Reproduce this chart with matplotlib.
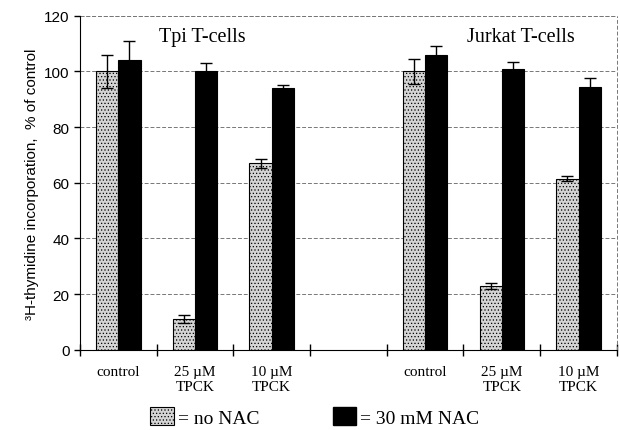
import numpy as np
import matplotlib.pyplot as plt
from matplotlib.patches import Patch

categories = ['control', '25 µM\nTPCK', '10 µM\nTPCK', '', 'control', '25 µM\nTPCK', '10 µM\nTPCK']
no_nac = [100, 11, 67, np.nan, 100, 23, 61.5]
no_nac_err = [6, 1.5, 1.5, np.nan, 4.5, 1, 1]
nac = [104, 100, 94, np.nan, 106, 101, 94.5]
nac_err = [7, 3, 1, np.nan, 3, 2.5, 3]
titles = ['Tpi T-cells', 'Jurkat T-cells']

serif = 'Liberation Serif'
sans = 'Liberation Sans'
plt.rcParams['hatch.linewidth'] = 0.5

fig = plt.figure(figsize=(6.2, 4.31), dpi=100)
ax = fig.add_axes([0.129, 0.186, 0.866, 0.775])

x = np.arange(len(categories))
w = 0.29
ax.bar(x - w/2, no_nac, w, color='#d4d4d4', edgecolor='black', linewidth=0.8, hatch='.....', zorder=3)
ax.bar(x + w/2, nac, w, color='black', edgecolor='black', linewidth=0.8, zorder=3)
ax.errorbar(x - w/2, no_nac, yerr=no_nac_err, fmt='none', ecolor='black', elinewidth=1, capsize=4, capthick=1, zorder=4)
ax.errorbar(x + w/2, nac, yerr=nac_err, fmt='none', ecolor='black', elinewidth=1, capsize=4, capthick=1, zorder=4)

ax.set_xlim(-0.5, len(categories) - 0.5)
ax.set_ylim(0, 120)
ax.set_yticks(range(0, 121, 20))
ax.set_yticklabels([str(v) for v in range(0, 121, 20)], fontfamily=sans, fontsize=11)
ax.set_xticks(np.arange(-0.5, len(categories), 1))
ax.set_xticklabels([])
ax.set_xticks(x, minor=True)
ax.set_xticklabels(categories, minor=True, fontfamily=serif, fontsize=11, linespacing=1.2)
ax.tick_params(axis='x', which='major', direction='inout', length=8, width=1)
ax.tick_params(axis='x', which='minor', length=0, pad=11)
ax.tick_params(axis='y', direction='out', length=4, width=1)

ax.grid(axis='y', color='#777777', linestyle=(0, (4, 2)), linewidth=0.7, zorder=0)
for s in ['top', 'right']:
    ax.spines[s].set_visible(False)
ax.axvline(len(categories) - 0.5, color='#777777', linestyle=(0, (4, 2)), linewidth=0.7, clip_on=False)
ax.axhline(120, color='#777777', linestyle=(0, (4, 2)), linewidth=0.7, clip_on=False)

ax.set_ylabel('³H-thymidine incorporation,  % of control', fontfamily=sans, fontsize=11)

ax.text(1.1, 112.5, titles[0], ha='center', va='center', fontfamily=serif, fontsize=14.5)
ax.text(5.25, 112.5, titles[1], ha='center', va='center', fontfamily=serif, fontsize=14.5)

handles = [Patch(facecolor='#d4d4d4', edgecolor='black', hatch='.....', linewidth=0.8),
           Patch(facecolor='black', edgecolor='black')]
fig.legend(handles, ['= no NAC', '= 30 mM NAC'], loc='center', bbox_to_anchor=(0.508, 0.03),
           ncol=2, frameon=False, prop={'family': serif, 'size': 14}, handlelength=1.2,
           handleheight=1.0, handletextpad=0.2, columnspacing=3.8)

fig.savefig('out.png', dpi=100)
